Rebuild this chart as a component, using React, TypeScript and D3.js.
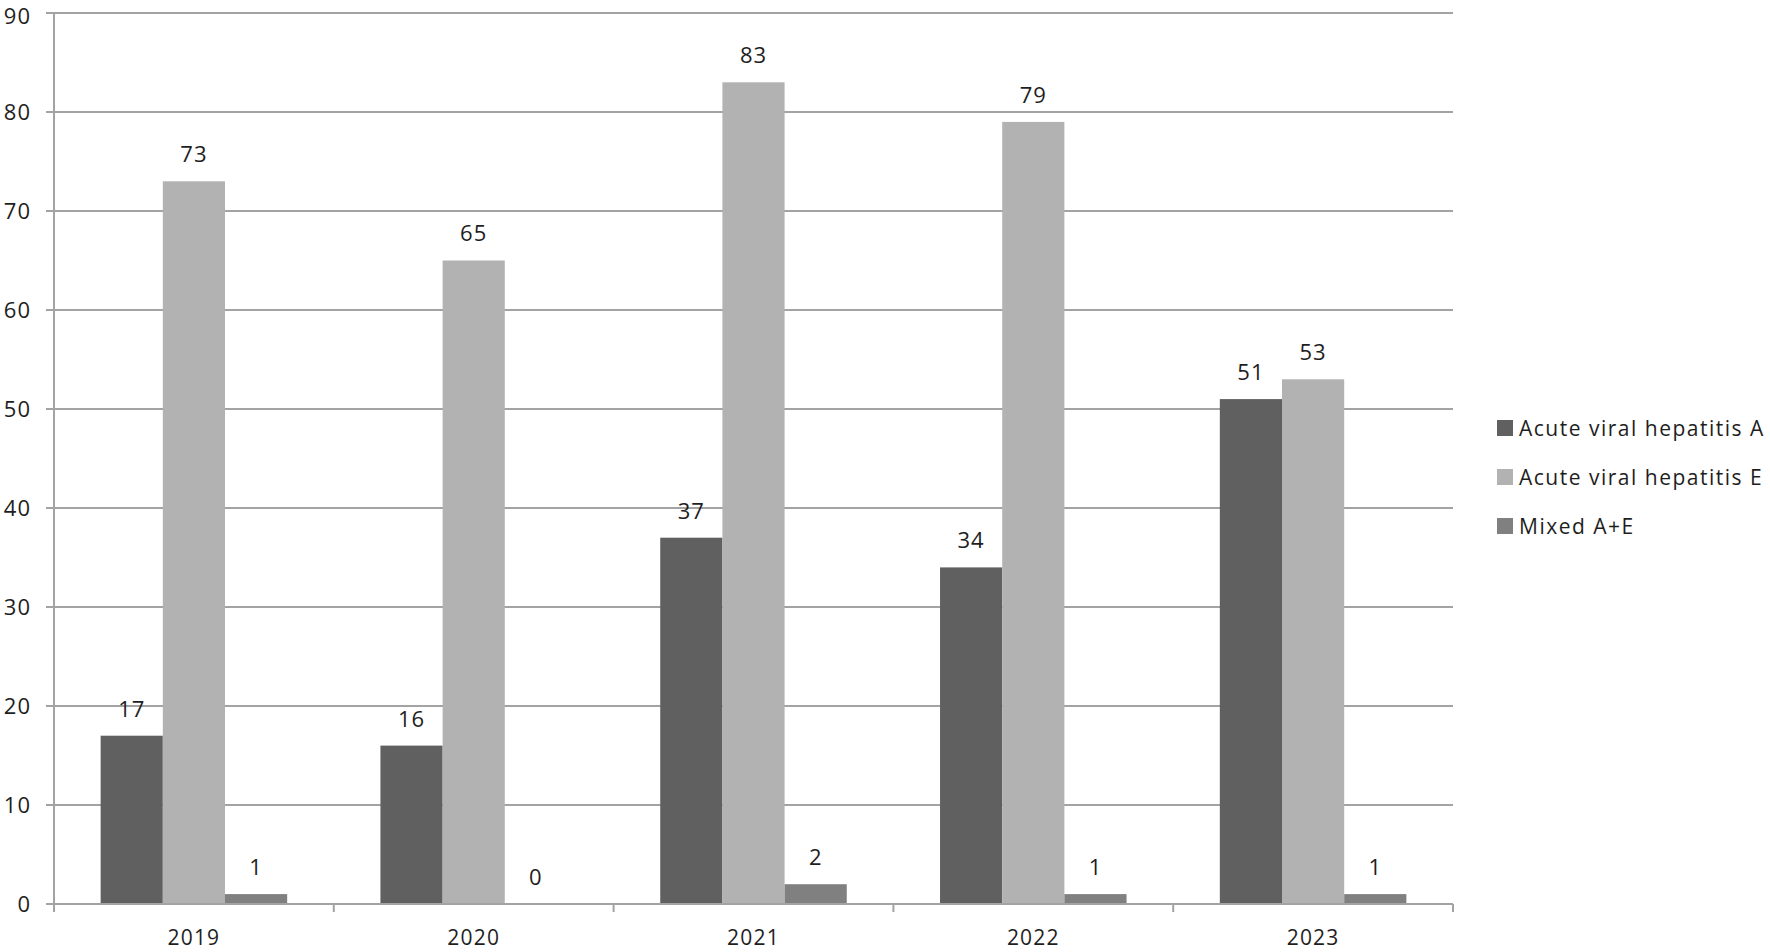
import { useEffect, useRef } from "react";
import * as d3 from "d3";

const years = ["2019", "2020", "2021", "2022", "2023"];
const seriesNames = ["Acute viral hepatitis A", "Acute viral hepatitis E", "Mixed A+E"];
const hepatitisA = [17, 16, 37, 34, 51];
const hepatitisE = [73, 65, 83, 79, 53];
const mixedAE = [1, 0, 2, 1, 1];
const yTicks = [0, 10, 20, 30, 40, 50, 60, 70, 80, 90];
const colors = ["#606060", "#b2b2b2", "#808080"];

const App: React.FC = () => {
  const svgRef = useRef<SVGSVGElement | null>(null);

  useEffect(() => {
    if (!svgRef.current) return;
    const width = 1770;
    const height = 952;
    const margin = { top: 13, right: 317, bottom: 48, left: 54 };
    const font = "'Open Sans', 'DejaVu Sans', sans-serif";
    const gridColor = "#a3a3a3";
    const textColor = "#1e1e1e";

    const svg = d3.select(svgRef.current).attr("width", width).attr("height", height);
    svg.selectAll("*").remove();
    svg.append("rect").attr("width", width).attr("height", height).attr("fill", "#fff");

    const series = [hepatitisA, hepatitisE, mixedAE];

    const x = d3
      .scaleBand<string>()
      .domain(years)
      .range([margin.left, width - margin.right])
      .paddingInner(0)
      .paddingOuter(0);

    // 150% gap width, like the spreadsheet default
    const inner = d3
      .scaleBand<number>()
      .domain([0, 1, 2])
      .range([0, x.bandwidth()])
      .paddingInner(0)
      .paddingOuter(0.75);

    const y = d3
      .scaleLinear()
      .domain([0, 90])
      .range([height - margin.bottom, margin.top]);

    const label = (sel: d3.Selection<SVGTextElement, unknown, null, undefined>, size = 22, spacing = 1) =>
      sel
        .attr("font-family", font)
        .attr("font-size", size)
        .attr("letter-spacing", spacing)
        .attr("fill", textColor);

    // gridlines + y tick marks
    const yAxis = svg.append("g");
    yTicks.forEach((t) => {
      yAxis
        .append("line")
        .attr("x1", margin.left - 8)
        .attr("x2", width - margin.right)
        .attr("y1", y(t))
        .attr("y2", y(t))
        .attr("stroke", gridColor)
        .attr("stroke-width", 2);
      yAxis
        .append("text")
        .attr("x", margin.left - 23)
        .attr("y", Math.max(y(t), 16))
        .attr("dy", "0.36em")
        .attr("text-anchor", "end")
        .call(label)
        .text(t);
    });

    // y axis line
    svg
      .append("line")
      .attr("x1", margin.left)
      .attr("x2", margin.left)
      .attr("y1", y(90))
      .attr("y2", y(0) + 8)
      .attr("stroke", gridColor)
      .attr("stroke-width", 2);

    // x tick marks at category boundaries
    const bounds = years.map((yr) => x(yr)!).concat([width - margin.right]);
    bounds.forEach((b) => {
      svg
        .append("line")
        .attr("x1", b)
        .attr("x2", b)
        .attr("y1", y(0))
        .attr("y2", y(0) + 8)
        .attr("stroke", gridColor)
        .attr("stroke-width", 2);
    });

    // bars
    series.forEach((vals, si) => {
      const g = svg.append("g");
      vals.forEach((v, i) => {
        const bx = x(years[i])! + inner(si)!;
        g.append("rect")
          .attr("x", bx)
          .attr("y", y(v))
          .attr("width", inner.bandwidth())
          .attr("height", y(0) - y(v))
          .attr("fill", colors[si]);
        g.append("text")
          .attr("x", bx + inner.bandwidth() / 2)
          .attr("y", y(v) - 27)
          .attr("dy", "0.36em")
          .attr("text-anchor", "middle")
          .call(label)
          .text(v);
      });
    });

    // x axis line on top of bars
    svg
      .append("line")
      .attr("x1", margin.left - 8)
      .attr("x2", width - margin.right)
      .attr("y1", y(0))
      .attr("y2", y(0))
      .attr("stroke", gridColor)
      .attr("stroke-width", 2);

    // x labels
    years.forEach((yr) => {
      svg
        .append("text")
        .attr("x", x(yr)! + x.bandwidth() / 2)
        .attr("y", y(0) + 33)
        .attr("dy", "0.36em")
        .attr("text-anchor", "middle")
        .call((s) => label(s, 21, 1.2))
        .text(yr);
    });

    // legend
    const legend = svg.append("g").attr("transform", "translate(1497,428)");
    seriesNames.forEach((name, i) => {
      const row = legend.append("g").attr("transform", `translate(0,${i * 49})`);
      row.append("rect").attr("x", 0).attr("y", -8).attr("width", 16).attr("height", 16).attr("fill", colors[i]);
      row
        .append("text")
        .attr("x", 22)
        .attr("y", 0)
        .attr("dy", "0.36em")
        .call((s) => label(s, 21, 1.5))
        .text(name);
    });
  }, []);

  return <svg ref={svgRef} style={{ position: "absolute", left: 0, top: 0, display: "block" }}></svg>;
};

export default App;
